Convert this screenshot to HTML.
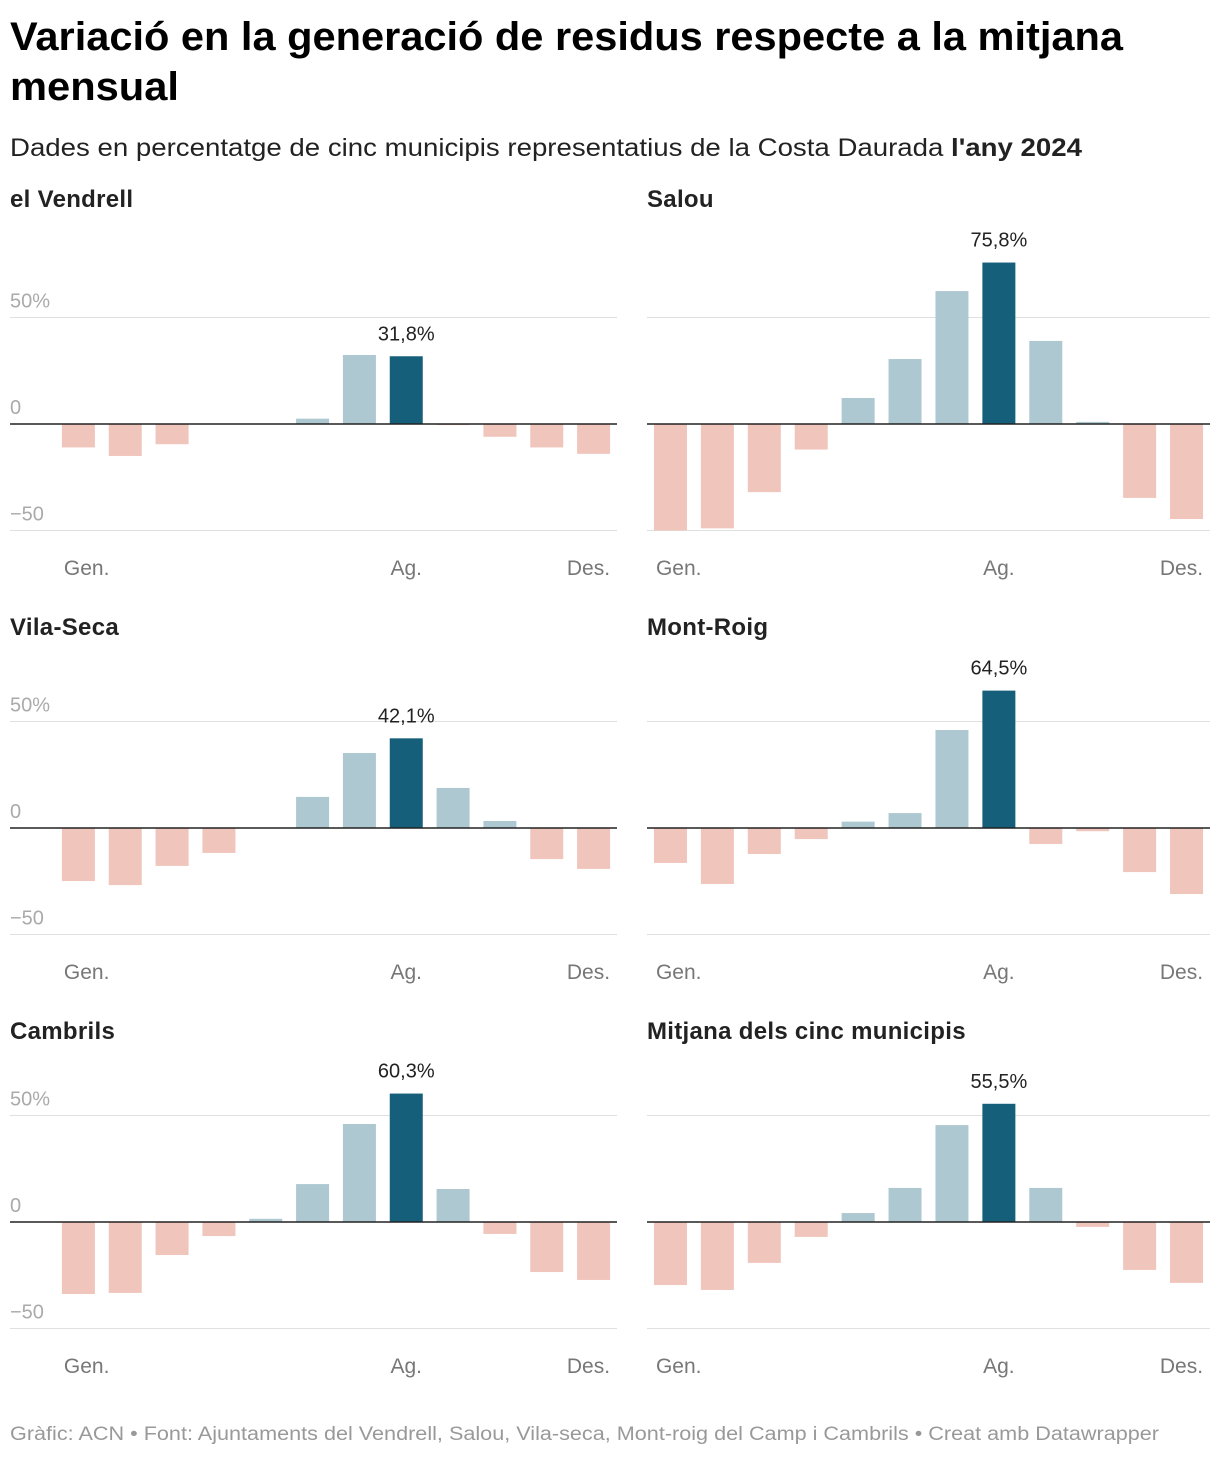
<!DOCTYPE html>
<html><head><meta charset="utf-8">
<style>
body{margin:0;background:#fff;width:1220px;height:1458px;overflow:hidden;font-family:"Liberation Sans",Arial,sans-serif}
svg text{font-family:"Liberation Sans",Arial,sans-serif}
</style></head>
<body>
<svg id="chart" width="1220" height="1458" xmlns="http://www.w3.org/2000/svg">
<text x="10" y="50" font-size="40" font-weight="bold" fill="#000" textLength="1113" lengthAdjust="spacingAndGlyphs">Variació en la generació de residus respecte a la mitjana</text>
<text x="10" y="100" font-size="40" font-weight="bold" fill="#000" textLength="169" lengthAdjust="spacingAndGlyphs">mensual</text>
<text x="10" y="156" font-size="25" fill="#222" textLength="1072" lengthAdjust="spacingAndGlyphs">Dades en percentatge de cinc municipis representatius de la Costa Daurada <tspan font-weight="bold">l'any 2024</tspan></text>
<text x="10" y="1440" font-size="19" fill="#999" textLength="1149" lengthAdjust="spacingAndGlyphs">Gràfic: ACN • Font: Ajuntaments del Vendrell, Salou, Vila-seca, Mont-roig del Camp i Cambrils • Creat amb Datawrapper</text>
<g id="panels"></g>
</svg>
<script>
const months = ["Gen.","Feb.","Mar.","Abr.","Mai.","Jun.","Jul.","Ag.","Set.","Oct.","Nov.","Des."];
const monthTicks = ["Gen.","Ag.","Des."];
const yTicks = [50,0,-50];
const panelTitles = ["el Vendrell","Salou","Vila-Seca","Mont-Roig","Cambrils","Mitjana dels cinc municipis"];
const vendrell = [-11,-15,-9.5,0,0,2.5,32.4,31.8,-0.5,-6,-11,-14];
const salou = [-50,-49,-32,-12,12.2,30.5,62.4,75.8,39,1,-34.7,-44.6];
const vilaseca = [-24.9,-26.8,-17.8,-11.7,0,14.6,35.2,42.1,18.8,3.3,-14.6,-19.2];
const montroig = [-16.4,-26.3,-12.2,-5.2,3,7,46,64.5,-7.5,-1.5,-20.7,-31];
const cambrils = [-33.8,-33.3,-15.5,-6.6,1.5,17.8,46,60.3,15.5,-5.6,-23.5,-27.2];
const mitjana = [-29.6,-31.9,-19.2,-7,4.2,16,45.5,55.5,16,-2.3,-22.5,-28.6];
const highlightLabels = ["31,8%","75,8%","42,1%","64,5%","60,3%","55,5%"];
const series = [vendrell,salou,vilaseca,montroig,cambrils,mitjana];

const NS="http://www.w3.org/2000/svg";
const root=document.getElementById('panels');
function mk(tag,attrs,parent){const e=document.createElementNS(NS,tag);for(const k in attrs)e.setAttribute(k,attrs[k]);parent.appendChild(e);return e;}
const pxPerUnit=2.13;
const titleY=[207,635,1039];
series.forEach((vals,i)=>{
  const col=i%2,row=Math.floor(i/2);
  const zeroY=[424,828,1222][row];
  const gx0=col?647:10, gx1=col?1210:617;
  const px0=col?647:55;
  const step=(gx1-px0)/12;
  const bw=33;
  const g=mk('g',{},root);
  
  
  const y=v=>zeroY-v*pxPerUnit;
  const x=m=>px0+step*m;
  const t=mk('text',{x:gx0,y:titleY[row],'font-size':24,'font-weight':'bold',fill:'#222','letter-spacing':'0.3'},g);
  t.textContent=panelTitles[i];
  
  
  yTicks.forEach(v=>{
    if(v!==0){const l=mk('line',{x1:gx0,x2:gx1,y1:y(v),y2:y(v),stroke:'#e0e0e0','stroke-width':1},g);
      
      }
    if(col===0){const tl=mk('text',{x:10,y:y(v)-10,'font-size':20,fill:'#aaa'},g);
      tl.textContent=v===50?'50%':(v<0?'\u221250':String(v));
      
      }
  });
  vals.forEach((v,m)=>{
    const color=m===7?'#165f7a':(v>=0?'#adc8d1':'#f0c5bc');
    const r=mk('rect',{x:x(m)+(step-bw)/2,y:Math.min(y(v),zeroY),width:bw,height:Math.abs(v)*pxPerUnit,fill:color},g);
    
    
  });
  const lbl=mk('text',{x:x(7)+step/2,y:y(vals[7])-16,'font-size':20,fill:'#222','text-anchor':'middle'},g);
  lbl.textContent=highlightLabels[i];
  
  
  const z=mk('line',{x1:gx0,x2:gx1,y1:zeroY,y2:zeroY,stroke:'#222','stroke-width':1.5},g);
  
  
  monthTicks.forEach((mt,k)=>{
    const m=months.indexOf(mt);
    let tx0=x(m)+step/2, anchor='middle';
    if(k===0){tx0=x(m)+(step-bw)/2+2;anchor='start';}
    if(k===monthTicks.length-1){tx0=x(m)+(step+bw)/2;anchor='end';}
    const tx=mk('text',{x:tx0,y:zeroY+151,'font-size':21,fill:'#777','text-anchor':anchor},g);
    tx.textContent=mt;
    
    
  });
});
</script>
</body></html>
